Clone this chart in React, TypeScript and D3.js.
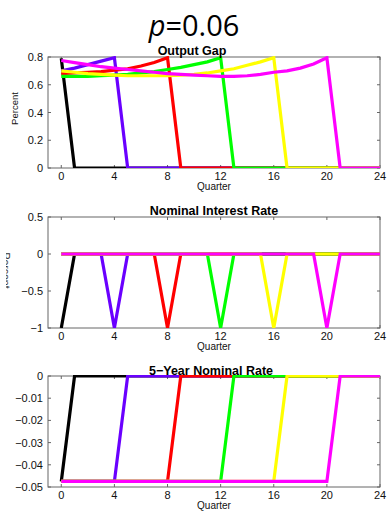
import * as d3 from "d3";
import { useRef, useEffect } from "react";

// quarters on the x axis
const quarters = d3.range(0, 25);
const xTicks = [0, 4, 8, 12, 16, 20, 24];
const colors = ["#000000", "#6a00ff", "#ff0000", "#00ff00", "#ffff00", "#ff00ff"];

// output gap, one array per shock date (0, 4, 8, 12, 16, 20)
const gap0 = [0.79, 0, 0, 0, 0, 0, 0, 0, 0, 0, 0, 0, 0, 0, 0, 0, 0, 0, 0, 0, 0, 0, 0, 0, 0];
const gap4 = [0.70, 0.72, 0.745, 0.77, 0.795, 0, 0, 0, 0, 0, 0, 0, 0, 0, 0, 0, 0, 0, 0, 0, 0, 0, 0, 0, 0];
const gap8 = [0.68, 0.685, 0.69, 0.695, 0.705, 0.715, 0.735, 0.76, 0.795, 0, 0, 0, 0, 0, 0, 0, 0, 0, 0, 0, 0, 0, 0, 0, 0];
const gap12 = [0.66, 0.66, 0.66, 0.665, 0.67, 0.675, 0.685, 0.695, 0.71, 0.725, 0.745, 0.765, 0.795, 0, 0, 0, 0, 0, 0, 0, 0, 0, 0, 0, 0];
const gap16 = [0.70, 0.69, 0.68, 0.675, 0.67, 0.665, 0.665, 0.665, 0.665, 0.67, 0.675, 0.685, 0.70, 0.715, 0.74, 0.765, 0.795, 0, 0, 0, 0, 0, 0, 0, 0];
const gap20 = [0.775, 0.76, 0.745, 0.73, 0.72, 0.71, 0.70, 0.69, 0.68, 0.675, 0.67, 0.665, 0.66, 0.66, 0.665, 0.675, 0.69, 0.70, 0.72, 0.75, 0.795, 0, 0, 0, 0];

// nominal interest rate
const rate0 = [-1, 0, 0, 0, 0, 0, 0, 0, 0, 0, 0, 0, 0, 0, 0, 0, 0, 0, 0, 0, 0, 0, 0, 0, 0];
const rate4 = [0, 0, 0, 0, -1, 0, 0, 0, 0, 0, 0, 0, 0, 0, 0, 0, 0, 0, 0, 0, 0, 0, 0, 0, 0];
const rate8 = [0, 0, 0, 0, 0, 0, 0, 0, -1, 0, 0, 0, 0, 0, 0, 0, 0, 0, 0, 0, 0, 0, 0, 0, 0];
const rate12 = [0, 0, 0, 0, 0, 0, 0, 0, 0, 0, 0, 0, -1, 0, 0, 0, 0, 0, 0, 0, 0, 0, 0, 0, 0];
const rate16 = [0, 0, 0, 0, 0, 0, 0, 0, 0, 0, 0, 0, 0, 0, 0, 0, -1, 0, 0, 0, 0, 0, 0, 0, 0];
const rate20 = [0, 0, 0, 0, 0, 0, 0, 0, 0, 0, 0, 0, 0, 0, 0, 0, 0, 0, 0, 0, -1, 0, 0, 0, 0];

// 5-year nominal rate
const long0 = [-0.0475, 0, 0, 0, 0, 0, 0, 0, 0, 0, 0, 0, 0, 0, 0, 0, 0, 0, 0, 0, 0, 0, 0, 0, 0];
const long4 = [-0.0475, -0.0475, -0.0475, -0.0475, -0.0475, 0, 0, 0, 0, 0, 0, 0, 0, 0, 0, 0, 0, 0, 0, 0, 0, 0, 0, 0, 0];
const long8 = [-0.0475, -0.0475, -0.0475, -0.0475, -0.0475, -0.0475, -0.0475, -0.0475, -0.0475, 0, 0, 0, 0, 0, 0, 0, 0, 0, 0, 0, 0, 0, 0, 0, 0];
const long12 = [-0.0475, -0.0475, -0.0475, -0.0475, -0.0475, -0.0475, -0.0475, -0.0475, -0.0475, -0.0475, -0.0475, -0.0475, -0.0475, 0, 0, 0, 0, 0, 0, 0, 0, 0, 0, 0, 0];
const long16 = [-0.0475, -0.0475, -0.0475, -0.0475, -0.0475, -0.0475, -0.0475, -0.0475, -0.0475, -0.0475, -0.0475, -0.0475, -0.0475, -0.0475, -0.0475, -0.0475, -0.0475, 0, 0, 0, 0, 0, 0, 0, 0];
const long20 = [-0.0475, -0.0475, -0.0475, -0.0475, -0.0475, -0.0475, -0.0475, -0.0475, -0.0475, -0.0475, -0.0475, -0.0475, -0.0475, -0.0475, -0.0475, -0.0475, -0.0475, -0.0475, -0.0475, -0.0475, -0.0475, 0, 0, 0, 0];

const gapTicks = [0, 0.2, 0.4, 0.6, 0.8];
const rateTicks = [-1, -0.5, 0, 0.5];
const longTicks = [-0.05, -0.04, -0.03, -0.02, -0.01, 0];

export default function App() {
    const svgRef = useRef(null);

    useEffect(() => {
        const svg = d3.select(svgRef.current);
        svg.selectAll("*").remove();

        const left = 48, right = 380;
        const x = d3.scaleLinear().domain([-1, 24]).range([left, right]);
        const fmt = (v: number) => String(v).replace("-", "\u2212");

        // main title
        const t = svg.append("text").attr("x", 194).attr("y", 36).attr("text-anchor", "middle")
            .style("font-family", "'Open Sans', sans-serif").style("font-size", "29px").attr("fill", "#000");
        t.append("tspan").style("font-style", "italic").text("p");
        t.append("tspan").text("=0.06");

        // the second y label is cut by the left edge of the page
        svg.append("clipPath").attr("id", "cutLabel").append("rect")
            .attr("x", 6).attr("y", 0).attr("width", 20).attr("height", 513);

        const panels = [
            { top: 57, bottom: 168, domain: [0, 0.8], ticks: gapTicks, series: [gap0, gap4, gap8, gap12, gap16, gap20], title: "Output Gap", titleX: 192, titleY: 55, label: "left" },
            { top: 217, bottom: 328, domain: [-1, 0.5], ticks: rateTicks, series: [rate0, rate4, rate8, rate12, rate16, rate20], title: "Nominal Interest Rate", titleX: 214, titleY: 215, label: "cut" },
            { top: 376, bottom: 487, domain: [-0.05, 0], ticks: longTicks, series: [long0, long4, long8, long12, long16, long20], title: "5\u2212Year Nominal Rate", titleX: 211, titleY: 375, label: "none" },
        ];

        panels.forEach((p, pi) => {
            const y = d3.scaleLinear().domain(p.domain).range([p.bottom, p.top]);
            const g = svg.append("g");

            // clip lines to the axes box
            svg.append("clipPath").attr("id", "clip" + pi).append("rect")
                .attr("x", left).attr("y", p.top - 1).attr("width", right - left).attr("height", p.bottom - p.top + 1);

            g.append("rect").attr("x", left).attr("y", p.top).attr("width", right - left).attr("height", p.bottom - p.top)
                .attr("fill", "#fff").attr("stroke", "#666").attr("stroke-width", 1);

            // ticks on both sides, pointing inward
            p.ticks.forEach(v => {
                g.append("line").attr("x1", left).attr("x2", left + 3).attr("y1", y(v)).attr("y2", y(v)).attr("stroke", "#666");
                g.append("line").attr("x1", right - 3).attr("x2", right).attr("y1", y(v)).attr("y2", y(v)).attr("stroke", "#666");
                g.append("text").attr("x", 43).attr("y", y(v) + 4).attr("text-anchor", "end")
                    .style("font-family", "'Liberation Sans', Arial, sans-serif").style("font-size", "11px").attr("fill", "#111").text(fmt(v));
            });
            xTicks.forEach(v => {
                g.append("line").attr("x1", x(v)).attr("x2", x(v)).attr("y1", p.bottom).attr("y2", p.bottom - 3).attr("stroke", "#666");
                g.append("line").attr("x1", x(v)).attr("x2", x(v)).attr("y1", p.top).attr("y2", p.top + 3).attr("stroke", "#666");
                g.append("text").attr("x", x(v)).attr("y", p.bottom + 12).attr("text-anchor", "middle")
                    .style("font-family", "'Liberation Sans', Arial, sans-serif").style("font-size", "11px").attr("fill", "#111").text(v);
            });

            g.append("text").attr("x", 214).attr("y", p.bottom + 22).attr("text-anchor", "middle")
                .style("font-family", "'Liberation Sans', Arial, sans-serif").style("font-size", "10px").attr("fill", "#111").text("Quarter");

            const line = d3.line<number>().x((d, i) => x(quarters[i])).y(d => y(d));
            const lg = g.append("g").attr("clip-path", `url(#clip${pi})`);
            p.series.forEach((s, i) => {
                lg.append("path").attr("d", line(s)).attr("fill", "none").attr("stroke", colors[i])
                    .attr("stroke-width", 3.2).attr("stroke-linejoin", "miter");
            });

            g.append("text").attr("x", p.titleX).attr("y", p.titleY).attr("text-anchor", "middle")
                .style("font-family", "'Liberation Sans', Arial, sans-serif").style("font-size", "12.5px").style("font-weight", "bold")
                .attr("fill", "#000").text(p.title);

            if (p.label === "left") {
                g.append("text").attr("transform", `translate(18,${(p.top + p.bottom) / 2 - 4}) rotate(-90)`).attr("text-anchor", "middle")
                    .style("font-family", "'Liberation Sans', Arial, sans-serif").style("font-size", "9.5px").attr("fill", "#111").text("Percent");
            } else if (p.label === "cut") {
                g.append("g").attr("clip-path", "url(#cutLabel)")
                    .append("text").attr("transform", `translate(2,${(p.top + p.bottom) / 2 - 2}) rotate(90)`).attr("text-anchor", "middle")
                    .style("font-family", "'Liberation Sans', Arial, sans-serif").style("font-size", "10.5px").attr("fill", "#333").text("Percent");
            }
        });
    }, []);

    return (
        <svg ref={svgRef} width={387} height={513}
            style={{ position: "fixed", left: 0, top: 0, background: "#fff" }} />
    );
}
